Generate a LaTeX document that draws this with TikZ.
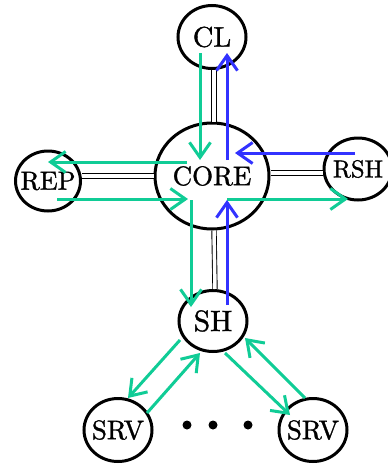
\documentclass[tikz,border=0pt]{standalone}
\usepackage{graphicx}
\usepackage{fontspec}
\usetikzlibrary{shapes.geometric,arrows.meta}
\newfontfamily\procfont{lmroman10-regular}[Extension=.otf, FakeBold=1.2]
\definecolor{flowgreen}{RGB}{16,204,150}
\definecolor{flowblue}{RGB}{50,50,255}
% a name set at ten points and enlarged, so its strokes stay heavy
\newcommand\proclabel[2]{\scalebox{#1}{\procfont #2}}
\tikzset{
  proc/.style={ellipse, draw=black, line width=3pt, inner sep=0pt},
  link/.style={draw=black, double=white, line width=0.9pt, double distance=3.5pt},
  flow/.style={line width=3pt, -{Straight Barb[length=15pt,width=21pt,line width=3pt]}},
  gflow/.style={flow, draw=flowgreen},
  bflow/.style={flow, draw=flowblue},
}
\begin{document}
\begin{tikzpicture}[x=1pt,y=-1pt]
\useasboundingbox (0,0) rectangle (388,466);

% processes
\node[proc, minimum width=68pt, minimum height=63pt,
      label={center:\proclabel{2.85}{CL}}] (cl) at (212,37) {};
\node[proc, minimum width=114pt, minimum height=106pt,
      label={center:\proclabel{2.7}{CORE}}] (core) at (212,176) {};
\node[proc, minimum width=68pt, minimum height=62pt,
      label={center:\proclabel{2.45}{RSH}}] (rsh) at (358,169) {};
\node[proc, minimum width=65pt, minimum height=60pt,
      label={center:\proclabel{2.62}{REP}}] (rep) at (48,181) {};
\node[proc, minimum width=68pt, minimum height=61pt,
      label={center:\proclabel{2.95}{SH}}] (sh) at (213,321) {};
\node[proc, minimum width=68pt, minimum height=63pt,
      label={center:\proclabel{2.7}{SRV}}] (srvl) at (118,430) {};
\node[proc, minimum width=68pt, minimum height=63pt,
      label={center:\proclabel{2.7}{SRV}}] (srvr) at (313,430) {};

% ellipsis between the servers
\foreach \dx/\nm in {187/d1, 213/d2, 248/d3}
  \fill (\dx,425) circle (4.5pt) coordinate (\nm);

% channels
\draw[link] ([xshift=2pt]cl.south) -- ([xshift=2pt]core.north);
\draw[link] ([xshift=2pt]core.south) -- ([xshift=2pt]sh.north);
\draw[link] (core.west) -- (core.west -| rep.east);
\draw[link] ([yshift=3pt]core.east) -- ([yshift=3pt]core.east -| rsh.west);

% green messages
\draw[gflow] ([shift={(-12,16)}]cl.center)   -- ([shift={(-12,-16)}]core.center);
\draw[gflow] ([shift={(-25,-14)}]core.center) -- ([shift={(0,-19)}]rep.center);
\draw[gflow] ([shift={(9,18)}]rep.center)    -- ([shift={(-24,23)}]core.center);
\draw[gflow] ([shift={(-21,24)}]core.center) -- ([shift={(-22,-14)}]sh.center);
\draw[gflow] ([shift={(15,23)}]core.center)  -- ([shift={(-10,30)}]rsh.center);
\draw[gflow] ([shift={(-33,19)}]sh.center)   -- ([shift={(10,-32)}]srvl.center);
\draw[gflow] ([shift={(29,-17)}]srvl.center) -- ([shift={(-13,32)}]sh.center);
\draw[gflow] ([shift={(12,32)}]sh.center)    -- ([shift={(-23,-15)}]srvr.center);
\draw[gflow] ([shift={(-8,-32)}]srvr.center) -- ([shift={(32,17)}]sh.center);

% blue messages
\draw[bflow] ([shift={(15,-16)}]core.center) -- ([shift={(15,16)}]cl.center);
\draw[bflow] ([shift={(-3,-16)}]rsh.center)  -- ([shift={(23,-23)}]core.center);
\draw[bflow] ([shift={(14,-16)}]sh.center)   -- ([shift={(15,24)}]core.center);
\end{tikzpicture}
\end{document}
